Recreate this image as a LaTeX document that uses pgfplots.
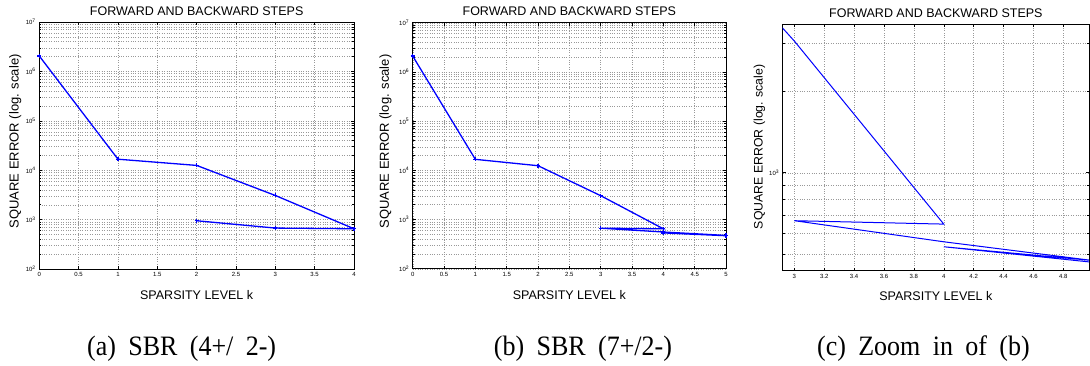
\documentclass[border=0pt]{standalone}
\usepackage{pgfplots}
\pgfplotsset{compat=1.18}
\usepackage{fontspec}
\setmainfont{Liberation Sans}
\newfontfamily\capfont[WordSpace=1.9]{Liberation Serif}

\pgfplotsset{
  mystyle/.style={
    scale only axis,
    axis line style={line width=0.9pt},
    xmajorgrids=true, ymajorgrids=true, yminorgrids=true,
    major grid style={dotted, black!40, line width=0.4pt},
    minor grid style={dotted, black!40, line width=0.4pt},
    tick style={black, line width=0.5pt},
    major tick length=3pt, minor tick length=1.8pt,
    tick label style={font=\fontsize{6}{7}\selectfont},
    /pgf/number format/assume math mode=true,
    title style={font=\fontsize{12.5}{14}\selectfont, at={(axis description cs:0.5,1)}, anchor=base, yshift=1pt},
    xlabel style={font=\fontsize{12.5}{14}\selectfont, at={(axis description cs:0.5,0)}, anchor=base, yshift=-30.3pt},
    title={FORWARD AND BACKWARD STEPS},
    xlabel={SPARSITY LEVEL k},
    ylabel={SQUARE ERROR (log. scale)},
  },
  mainlog/.style={
    ymin=100, ymax=1e7,
    ytick={1e2,1e3,1e4,1e5,1e6,1e7},
    yticklabels={10\textsuperscript{2},10\textsuperscript{3},10\textsuperscript{4},10\textsuperscript{5},10\textsuperscript{6},10\textsuperscript{7}},
  },
}
\tikzset{capstyle/.style={font=\capfont\fontsize{26}{28}\selectfont, anchor=base, yscale=1.08}}

\pgfplotstableread{
k err
0 2050000
1 16700
2 12500
3 3080
4 653
3 674
2 948
}\dataA

\pgfplotstableread{
k err
0 2100000
1 16700
2 12400
3 3050
4 647
3 666
4 557
5 475
4 534
5 468
}\dataB

\begin{document}
\begin{tikzpicture}
\useasboundingbox (0,0) rectangle (1090pt,-365pt);

% (a)
\begin{axis}[ymode=log, mystyle, mainlog,
  at={(39.3pt,-269pt)}, anchor=south west,
  width=314.7pt, height=247pt,
  xmin=0, xmax=4, xtick={0,0.5,...,4},
  ylabel style={font=\fontsize{13}{15}\selectfont, at={(axis description cs:-0.0656,0.517)}, anchor=base},
]
\addplot[blue, line width=1.3pt, mark=+, mark size=2pt] table[x=k,y=err] {\dataA};
\end{axis}

% (b)
\begin{axis}[ymode=log, mystyle, mainlog,
  at={(412.7pt,-268.7pt)}, anchor=south west,
  width=313.3pt, height=246pt,
  xmin=0, xmax=5, xtick={0,0.5,...,5},
  ylabel style={font=\fontsize{13}{15}\selectfont, at={(axis description cs:-0.076,0.517)}, anchor=base},
]
\addplot[blue, line width=1.3pt, mark=+, mark size=2pt] table[x=k,y=err] {\dataB};
\end{axis}

% (c)
\begin{axis}[ymode=log, mystyle,
  at={(782.7pt,-270.7pt)}, anchor=south west,
  width=306.3pt, height=246.4pt,
  xmin=2.922, xmax=4.972, xtick={3,3.2,...,4.81},
  ymin=436, ymax=3516,
  ytick={1000}, yticklabels={10\textsuperscript{3}},
  minor ytick={500,600,700,800,900,2000,3000},
  ylabel style={font=\fontsize{12.3}{14}\selectfont, at={(axis description cs:-0.066,0.503)}, anchor=base},
]
\addplot[blue, line width=1pt] table[x=k,y=err] {\dataB};
\end{axis}

\node[capstyle] at (181.7pt,-355.6pt) {(a) SBR (4+/ 2-)};
\node[capstyle] at (583pt,-355.6pt) {(b) SBR (7+/2-)};
\node[capstyle] at (923.4pt,-355.6pt) {(c) Zoom in of (b)};
\end{tikzpicture}
\end{document}
